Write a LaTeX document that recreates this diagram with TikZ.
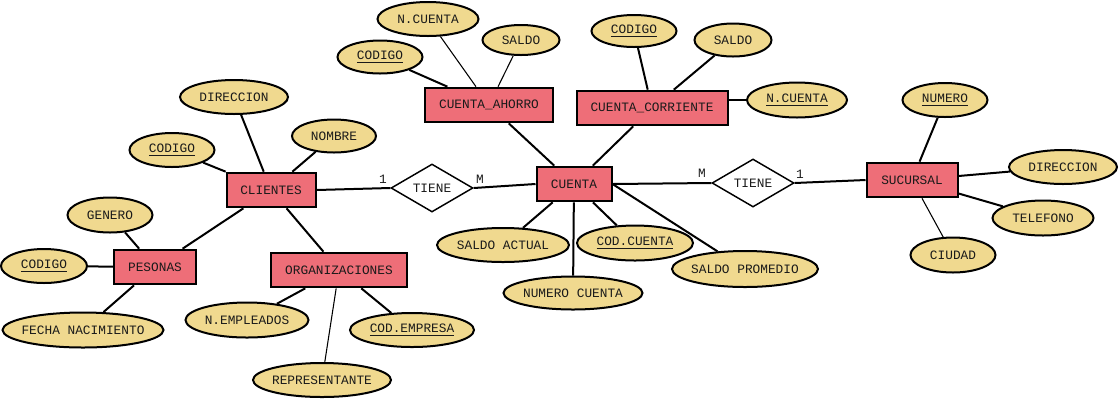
\documentclass[tikz,border=0pt]{standalone}
\usepackage{fontspec}
\setmainfont{Liberation Mono}
\usetikzlibrary{shapes.geometric}
\definecolor{entfill}{HTML}{EE6E78}
\definecolor{attfill}{HTML}{F0D98F}
\definecolor{txt}{HTML}{1A1A1A}
\newcommand\zw[1]{\makebox[0pt]{#1}}
\begin{document}
\begin{tikzpicture}[x=0.75pt,y=-0.75pt,
  font=\fontsize{9.6pt}{11pt}\selectfont,
  ent/.style={draw,line width=1.5pt,fill=entfill,inner sep=0pt,minimum height=26pt,text=txt},
  att/.style={draw,ellipse,line width=1.5pt,fill=attfill,inner sep=0pt,text=txt},
  rel/.style={draw,diamond,line width=1.1pt,fill=white,aspect=1.7,minimum width=61.5pt,minimum height=36pt,inner sep=0pt,text=txt},
  ln/.style={line width=1.5pt},
  thinln/.style={line width=0.8pt},
  card/.style={inner sep=0pt,text=txt}]
\useasboundingbox (0,0) rectangle (1120,401);
\fill[white] (0,0) rectangle (1120,401);

% entities
\node[ent,minimum width=89*0.75pt] (cli) at (271,190) {CLIENTES};
\node[ent,minimum width=82*0.75pt] (pes) at (155,267) {PESONAS};
\node[ent,minimum width=136*0.75pt] (org) at (339,270) {ORGANIZACIONES};
\node[ent,minimum width=128*0.75pt] (ca) at (489,105) {CUENTA\_AHORRO};
\node[ent,minimum width=151*0.75pt] (cc) at (652,108) {CUENTA\_CORRIENTE};
\node[ent,minimum width=75*0.75pt] (cta) at (574,184) {CUENTA};
\node[ent,minimum width=91*0.75pt] (suc) at (912,180) {SUCURSAL};

% relationships
\node[rel] (t1) at (432,188) {\zw{TIENE}};
\node[rel] (t2) at (753,183) {\zw{TIENE}};

% attributes
\node[att,minimum width=101*0.75pt,minimum height=34*0.75pt] (ncta1) at (428,19) {\zw{N.CUENTA}};
\node[att,minimum width=85*0.75pt,minimum height=33*0.75pt] (cod1) at (380,57) {\zw{\underline{CODIGO}}};
\node[att,minimum width=77*0.75pt,minimum height=30*0.75pt] (sal1) at (521,40) {\zw{SALDO}};
\node[att,minimum width=85*0.75pt,minimum height=32*0.75pt] (cod2) at (634,31) {\zw{\underline{CODIGO}}};
\node[att,minimum width=77*0.75pt,minimum height=33*0.75pt] (sal2) at (733,40) {\zw{SALDO}};
\node[att,minimum width=100*0.75pt,minimum height=35*0.75pt] (ncta2) at (797,100) {\zw{\underline{N.CUENTA}}};
\node[att,minimum width=108*0.75pt,minimum height=34*0.75pt] (dir1) at (234,97) {\zw{DIRECCION}};
\node[att,minimum width=84*0.75pt,minimum height=33*0.75pt] (nom) at (334,136) {\zw{NOMBRE}};
\node[att,minimum width=85*0.75pt,minimum height=34*0.75pt] (cod3) at (172,150) {\zw{\underline{CODIGO}}};
\node[att,minimum width=85*0.75pt,minimum height=35*0.75pt] (gen) at (110,215) {\zw{GENERO}};
\node[att,minimum width=86*0.75pt,minimum height=34*0.75pt] (cod4) at (44,266) {\zw{\underline{CODIGO}}};
\node[att,minimum width=161*0.75pt,minimum height=35*0.75pt] (fec) at (83,330) {\zw{FECHA NACIMIENTO}};
\node[att,minimum width=123*0.75pt,minimum height=35*0.75pt] (nemp) at (247,320) {\zw{N.EMPLEADOS}};
\node[att,minimum width=138*0.75pt,minimum height=34*0.75pt] (rep) at (322,380) {\zw{REPRESENTANTE}};
\node[att,minimum width=124*0.75pt,minimum height=34*0.75pt] (codemp) at (412,330) {\zw{\underline{COD.EMPRESA}}};
\node[att,minimum width=132*0.75pt,minimum height=34*0.75pt] (sact) at (503,245) {\zw{SALDO ACTUAL}};
\node[att,minimum width=116*0.75pt,minimum height=35*0.75pt] (codcta) at (635,243) {\zw{\underline{COD.CUENTA}}};
\node[att,minimum width=139*0.75pt,minimum height=33*0.75pt] (ncuenta) at (573,293) {\zw{NUMERO CUENTA}};
\node[att,minimum width=146*0.75pt,minimum height=36*0.75pt] (sprom) at (745,269) {\zw{SALDO PROMEDIO}};
\node[att,minimum width=85*0.75pt,minimum height=34*0.75pt] (num) at (945,100) {\zw{\underline{NUMERO}}};
\node[att,minimum width=108*0.75pt,minimum height=34*0.75pt] (dir2) at (1063,167) {\zw{DIRECCION}};
\node[att,minimum width=101*0.75pt,minimum height=35*0.75pt] (tel) at (1043,218) {\zw{TELEFONO}};
\node[att,minimum width=85*0.75pt,minimum height=35*0.75pt] (ciu) at (953,255) {\zw{CIUDAD}};

% connectors
\draw[ln] (cod3) -- (cli);
\draw[ln] (dir1) -- (cli);
\draw[ln] (nom) -- (cli);
\draw[ln] (cli) -- (pes);
\draw[ln] (cli) -- (org);
\draw[ln] (gen) -- (pes);
\draw[ln] (cod4) -- (pes);
\draw[ln] (fec) -- (pes);
\draw[ln] (org) -- (nemp);
\draw[thinln] (org) -- (rep);
\draw[ln] (org) -- (codemp);
\draw[ln] (cli.east) -- (t1.west);
\draw[ln] (t1.east) -- (cta.west);
\draw[ln] (cta.east) -- (t2.west);
\draw[ln] (t2.east) -- (suc.west);
\draw[ln] (cta) -- (ca);
\draw[ln] (cta) -- (cc);
\draw[ln] (ca) -- (cod1);
\draw[thinln] (ca) -- (ncta1);
\draw[thinln] (ca) -- (sal1);
\draw[ln] (cc) -- (cod2);
\draw[ln] (cc) -- (sal2);
\draw[ln] (cc.east |- ncta2.west) -- (ncta2.west);
\draw[ln] (cta) -- (sact);
\draw[ln] (cta) -- (ncuenta);
\draw[ln] (cta) -- (codcta);
\draw[ln] (cta.east) -- (sprom);
\draw[ln] (suc) -- (num);
\draw[ln] (suc) -- (dir2);
\draw[ln] (suc) -- (tel);
\draw[thinln] (suc) -- (ciu);

% cardinalities
\node[card] (c1) at (383,179) {1};
\node[card] (c2) at (480,179) {M};
\node[card] (c3) at (702,173) {M};
\node[card] (c4) at (800,174) {1};
\end{tikzpicture}
\end{document}
